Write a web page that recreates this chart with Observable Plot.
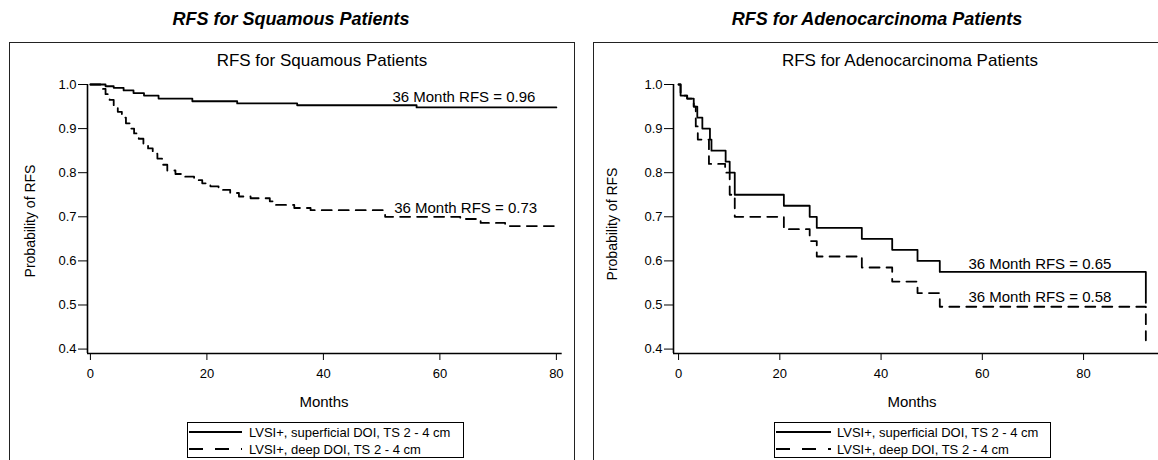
<!DOCTYPE html>
<html>
<head>
<meta charset="utf-8">
<script src="https://cdn.jsdelivr.net/npm/d3@7"></script>
<script src="https://cdn.jsdelivr.net/npm/@observablehq/plot@0.6"></script>
<style>
  body { margin: 0; background: #fff; }
  #root { position: relative; width: 1158px; height: 460px; overflow: hidden;
          font-family: "Liberation Sans", Arial, sans-serif; color: #000; background: #fff; }
  .toptitle { position: absolute; top: 9px; font-weight: bold; font-style: italic; font-size: 18px;
              transform: translateX(-50%); white-space: nowrap; }
  .frame { position: absolute; top: 42px; height: 440px; border: 1.5px solid #222; box-sizing: border-box; }
  .innertitle { position: absolute; top: 51px; font-size: 17px; transform: translateX(-50%); white-space: nowrap; }
  .plot { position: absolute; top: 70px; }
  .ylab { position: absolute; font-size: 14px; white-space: nowrap; transform: translate(-50%, -50%) rotate(-90deg); }
  .xlab { position: absolute; font-size: 15px; white-space: nowrap; transform: translate(-50%, -50%); }
  .legend { position: absolute; top: 422px; width: 277px; height: 36px; border: 1.5px solid #000;
            box-sizing: border-box; background: #fff; }
  .legend svg { position: absolute; left: 0; top: 0; }
</style>
</head>
<body>
<div id="root"></div>
<script>
// ---------- data ----------
const panelTitles = ["RFS for Squamous Patients", "RFS for Adenocarcinoma Patients"];
const seriesLabels = ["LVSI+, superficial DOI, TS 2 - 4 cm", "LVSI+, deep DOI, TS 2 - 4 cm"];
const xLabel = "Months";
const yLabel = "Probability of RFS";
const xTicks = [0, 20, 40, 60, 80];
const yTicks = [0.4, 0.5, 0.6, 0.7, 0.8, 0.9, 1.0];

// Squamous: superficial DOI (solid)
const sqSupMonths = [0, 2.6, 4.0, 5.7, 7.4, 9.2, 11.7, 17.5, 25.2, 35.5, 56.0, 80.0];
const sqSupProb   = [1.0, 0.996, 0.9925, 0.9865, 0.9805, 0.975, 0.968, 0.962, 0.957, 0.953, 0.948, 0.948];
// Squamous: deep DOI (dashed)
const sqDeepMonths = [0, 1.8, 2.6, 3.3, 4.0, 4.7, 5.4, 6.1, 6.8, 7.5, 8.3, 9.1, 9.9, 10.7, 11.5, 12.3, 13.2,
                      14.6, 16.0, 17.8, 19.2, 20.6, 22.0, 24.0, 25.5, 27.5, 30.8, 31.6, 35.0, 37.8, 50.6,
                      63.5, 67.0, 71.2, 80.0];
const sqDeepProb   = [1.0, 0.99, 0.978, 0.965, 0.952, 0.938, 0.925, 0.912, 0.90, 0.889, 0.877, 0.866, 0.855,
                      0.843, 0.832, 0.818, 0.805, 0.797, 0.791, 0.783, 0.776, 0.769, 0.761, 0.754, 0.746,
                      0.742, 0.735, 0.727, 0.72, 0.715, 0.70, 0.695, 0.686, 0.679, 0.670];

// Adenocarcinoma: superficial DOI (solid)
const adSupMonths = [0, 0.4, 1.7, 3.0, 3.7, 4.7, 6.2, 6.5, 9.3, 10.1, 11.1, 20.8, 25.9, 27.3, 36.2, 42.2, 47.2, 51.6, 92.3];
const adSupProb   = [1.0, 0.975, 0.968, 0.95, 0.925, 0.90, 0.875, 0.85, 0.825, 0.80, 0.75, 0.725, 0.70, 0.675, 0.65, 0.625, 0.60, 0.575, 0.505];
// Adenocarcinoma: deep DOI (dashed)
const adDeepMonths = [0, 0.4, 1.7, 3.0, 3.4, 3.8, 6.0, 9.2, 10.1, 11.1, 20.8, 25.9, 27.3, 36.2, 42.2, 47.2, 51.6, 92.3];
const adDeepProb   = [1.0, 0.975, 0.968, 0.95, 0.905, 0.875, 0.82, 0.80, 0.75, 0.70, 0.672, 0.645, 0.61, 0.585, 0.553, 0.527, 0.496, 0.42];

const sqNotes = ["36 Month RFS = 0.96", "36 Month RFS = 0.73"];
const adNotes = ["36 Month RFS = 0.65", "36 Month RFS = 0.58"];

// ---------- helpers ----------
const zip = (t, s) => t.map((d, i) => ({t: d, s: s[i]}));
const FONT = '"Liberation Sans", Arial, sans-serif';
const root = document.getElementById("root");

function el(tag, cls, text, style) {
  const e = document.createElement(tag);
  if (cls) e.className = cls;
  if (text != null) e.textContent = text;
  Object.assign(e.style, style || {});
  root.appendChild(e);
  return e;
}

function kmPlot(cfg) {
  const yMin = 0.39;
  return Plot.plot({
    width: cfg.width,
    height: 340,
    marginLeft: cfg.marginLeft,
    marginRight: cfg.marginRight,
    marginTop: 14,
    marginBottom: 57,
    x: {domain: cfg.xDomain, ticks: xTicks, tickSize: 7, tickPadding: 8, label: null, tickFormat: d3.format("d")},
    y: {domain: [yMin, 1.0], ticks: yTicks, tickSize: 9, tickPadding: 2, label: null, tickFormat: d3.format(".1f")},
    style: {fontFamily: FONT, fontSize: "13px", color: "#000", background: "transparent", overflow: "visible"},
    marks: [
      Plot.ruleX([cfg.xDomain[0]], {y1: yMin, y2: 1.0, stroke: "#000", strokeWidth: 1.6}),
      Plot.ruleY([yMin], {stroke: "#000", strokeWidth: 1.6}),
      Plot.line(cfg.solid, {x: "t", y: "s", curve: "step-after", stroke: "#000", strokeWidth: 1.8}),
      Plot.line(cfg.dashed, {x: "t", y: "s", curve: "step-after", stroke: "#000", strokeWidth: 1.8, strokeDasharray: "10,7"}),
      Plot.text(cfg.notes, {x: "x", y: "y", text: "text", textAnchor: "end", fontSize: 15, fill: "#000"})
    ]
  });
}

function legend(left, lineX1, lineX2, textX, dash) {
  const box = el("div", "legend", null, {left: left + "px"});
  const svg = d3.create("svg").attr("width", 277).attr("height", 36)
    .attr("font-family", FONT).attr("font-size", 13);
  const rows = [{y: 9, dash: null}, {y: 26, dash: dash}];
  rows.forEach((r, i) => {
    svg.append("line").attr("x1", lineX1).attr("x2", lineX2).attr("y1", r.y).attr("y2", r.y)
      .attr("stroke", "#000").attr("stroke-width", 1.8).attr("stroke-dasharray", r.dash);
    svg.append("text").attr("x", textX).attr("y", r.y).attr("dy", "0.35em").text(seriesLabels[i]);
  });
  box.appendChild(svg.node());
}

// ---------- left panel ----------
el("div", "toptitle", panelTitles[0], {left: "291px"});
el("div", "frame", null, {left: "9px", width: "566px"});
el("div", "innertitle", panelTitles[0], {left: "322px"});
const left = kmPlot({
  width: 580, marginLeft: 87, marginRight: 18.3, xDomain: [-0.5, 81],
  solid: zip(sqSupMonths, sqSupProb),
  dashed: zip(sqDeepMonths, sqDeepProb),
  notes: [{x: 76.4, y: 0.971, text: sqNotes[0]}, {x: 76.7, y: 0.72, text: sqNotes[1]}]
});
left.classList.add("plot");
left.style.left = "0px";
root.appendChild(left);
el("div", "ylab", yLabel, {left: "30px", top: "221px"});
el("div", "xlab", xLabel, {left: "324px", top: "401px"});
legend(187, 1, 54, 61, "14,12");

// ---------- right panel ----------
el("div", "toptitle", panelTitles[1], {left: "877px"});
el("div", "frame", null, {left: "593px", width: "600px"});
el("div", "innertitle", panelTitles[1], {left: "910px"});
const right = kmPlot({
  width: 578, marginLeft: 93, marginRight: 0, xDomain: [-1, 94.8],
  solid: zip(adSupMonths, adSupProb),
  dashed: zip(adDeepMonths, adDeepProb),
  notes: [{x: 85.5, y: 0.593, text: adNotes[0]}, {x: 85.5, y: 0.518, text: adNotes[1]}]
});
right.classList.add("plot");
right.style.left = "580px";
root.appendChild(right);
el("div", "ylab", yLabel, {left: "612px", top: "224px"});
el("div", "xlab", xLabel, {left: "912px", top: "401px"});
legend(774, 1, 56, 62, "14,12");
</script>
</body>
</html>
